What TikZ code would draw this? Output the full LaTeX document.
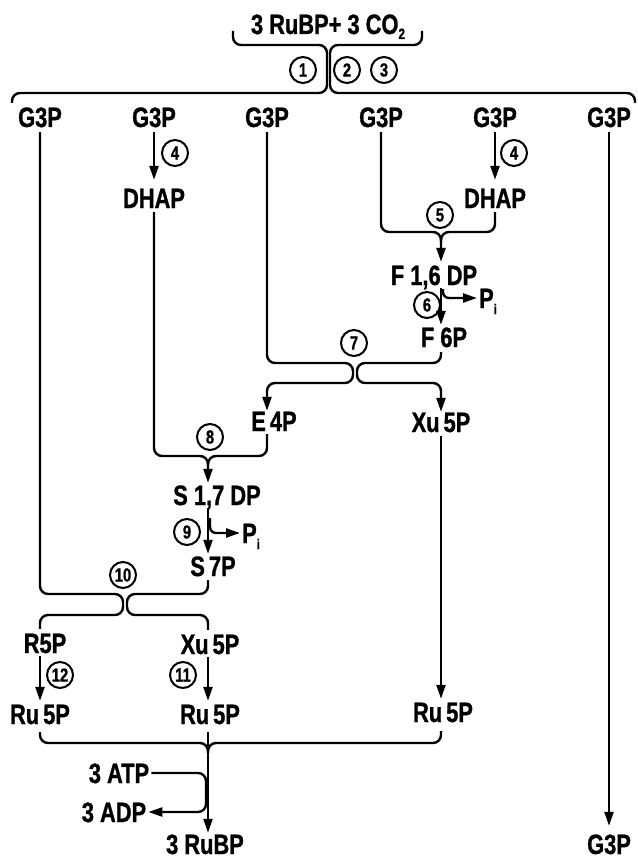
\documentclass[tikz,border=0pt]{standalone}
\usepackage{fontspec}
\newfontfamily\cf[FakeStretch=0.78,FakeBold=1]{Liberation Sans}
\usetikzlibrary{arrows.meta,calc}
\begin{document}
\begin{tikzpicture}[x=1pt,y=-1pt,
  lbl/.style={font=\cf\bfseries\fontsize{28}{28}\selectfont, inner sep=0pt, text height=20pt, text depth=0pt},
  num/.style={circle, draw, line width=2pt, minimum size=26pt, inner sep=0pt, font=\cf\bfseries\fontsize{19}{19}\selectfont},
  conn/.style={line width=2.4pt, rounded corners=8pt},
  arr/.style={conn, -{Triangle[length=14pt,width=9pt]}}]
\useasboundingbox (0,0) rectangle (637,861);
\fill[white] (0,0) rectangle (637,861);

% labels
\node[lbl] (title) at (328,24) {3 RuBP+ 3 CO\raisebox{-5pt}{\fontsize{15}{15}\selectfont 2}};
\node[lbl] (g1) at (40,117) {G3P};
\node[lbl] (g2) at (154,117) {G3P};
\node[lbl] (g3) at (267,117) {G3P};
\node[lbl] (g4) at (381,117) {G3P};
\node[lbl] (g5) at (495,117) {G3P};
\node[lbl] (g6) at (609,117) {G3P};
\node[lbl] (dh1) at (154,198) {DHAP};
\node[lbl] (dh2) at (495,198) {DHAP};
\node[lbl] (fdp) at (434,275) {F 1,6 DP};
\node[lbl] (f6p) at (444,337) {F\kern6pt 6P};
\node[lbl, anchor=west] (pi1) at (479,298) {P\raisebox{-6pt}{\fontsize{14}{14}\selectfont i}};
\node[lbl] (e4p) at (274,421) {E\kern4pt 4P};
\node[lbl] (xu1) at (441,422) {Xu\kern4pt 5P};
\node[lbl] (sdp) at (217,495) {S 1,7 DP};
\node[lbl, anchor=west] (pi2) at (242,533) {P\raisebox{-6pt}{\fontsize{14}{14}\selectfont i}};
\node[lbl] (s7p) at (213,566) {S\kern4pt 7P};
\node[lbl] (r5p) at (45,643) {R5P};
\node[lbl] (xu2) at (210,644) {Xu\kern4pt 5P};
\node[lbl] (ru1) at (40,714) {Ru\kern4pt 5P};
\node[lbl] (ru2) at (210,714) {Ru\kern4pt 5P};
\node[lbl] (ru3) at (443,712) {Ru\kern4pt 5P};
\node[lbl] (atp) at (119,773) {3 ATP};
\node[lbl] (adp) at (114,812) {3 ADP};
\node[lbl] (rubp) at (205,844) {3 RuBP};
\node[lbl] (g7) at (609,844) {G3P};

% step numbers
\node[num] (c1) at (303,70) {1};
\node[num] (c2) at (347,70) {2};
\node[num] (c3) at (384,70) {3};
\node[num] (c4a) at (175,153) {4};
\node[num] (c4b) at (514,153) {4};
\node[num] (c5) at (440,215) {5};
\node[num] (c6) at (427,305) {6};
\node[num] (c7) at (354,343) {7};
\node[num] (c8) at (210,437) {8};
\node[num] (c9) at (187,532) {9};
\node[num] (c10) at (123,575) {10};
\node[num] (c11) at (183,675) {11};
\node[num] (c12) at (60,675) {12};

% junction coordinates
\coordinate (tl) at (233,31);
\coordinate (tr) at (422,31);
\coordinate (bl) at (12,103);
\coordinate (br) at (635,103);
\coordinate (j5) at (441,232);
\coordinate (j8) at (208,456);
\coordinate (jb) at (208,743);

% top braces
\draw[conn] (tl) |- (327,45) -- (327,93) -| (bl);
\draw[conn] (tr) |- (330,45) -- (330,93) -| (br);

% step 4
\draw[arr, shorten <=5pt, shorten >=8pt] (g2.south) -- (dh1.north);
\draw[arr, shorten <=5pt, shorten >=8pt] (g5.south) -- (dh2.north);

% step 5
\draw[arr, shorten <=5pt, shorten >=3pt] (g4.south) |- (j5) -- (j5 |- fdp.north);
\draw[conn, shorten <=4pt] (dh2.south) |- (j5) -- ($(j5)+(0,10)$);

% step 6
\draw[arr, shorten <=3pt, shorten >=2pt] (fdp.south -| j5) -- (f6p.north -| j5);
\draw[arr, rounded corners=6pt, shorten >=2pt] ($(fdp.south -| j5)+(2,4)$) |- (pi1.west);

% step 7
\draw[arr, shorten <=5pt] (g3.south) |- (353,363) -- (353,383) -| (e4p.north -| g3.south);
\draw[arr, shorten <=5pt] (f6p.south -| j5) |- (357,363) -- (357,383) -| (xu1.north -| j5);

% step 8
\draw[conn, shorten <=4pt] (dh1.south) |- (j8) -- ($(j8)+(0,10)$);
\draw[arr, shorten <=3pt, shorten >=2pt] (e4p.south -| g3.south) |- (j8) -- (j8 |- sdp.north);

% step 9
\draw[arr, shorten <=3pt, shorten >=2pt] (sdp.south -| j8) -- (s7p.north -| j8);
\draw[arr, rounded corners=6pt, shorten >=2pt] ($(sdp.south -| j8)+(2,13)$) |- (pi2.west);

% step 10
\draw[conn, shorten <=5pt, shorten >=4pt] (g1.south) |- (123,594) -- (123,615) -| (r5p.north -| g1.south);
\draw[conn, shorten <=4pt, shorten >=4pt] (s7p.south -| j8) |- (127,594) -- (127,615) -| (xu2.north -| j8);

% steps 11, 12
\draw[arr, shorten <=3pt, shorten >=3pt] (r5p.south -| g1.south) -- (ru1.north -| g1.south);
\draw[arr, shorten <=3pt, shorten >=3pt] (xu2.south -| j8) -- (ru2.north -| j8);
\draw[arr, shorten <=4pt, shorten >=3pt] (xu1.south -| j5) -- (ru3.north -| j5);

% bottom
\draw[conn, shorten <=8pt] (ru1.south -| g1.south) |- (jb) -- ($(jb)+(0,10)$);
\draw[conn, shorten <=9pt] (ru3.south -| j5) |- (jb) -- ($(jb)+(0,10)$);
\draw[arr, shorten <=8pt, shorten >=1pt] (ru2.south -| jb) -- (rubp.north -| jb);
\draw[arr, shorten <=2pt, shorten >=2pt] (atp.east) -| ($(jb)+(-2,55)$) |- (adp.east);

% right column
\draw[arr, shorten <=5pt, shorten >=8pt] (g6.south) -- (g7.north);
\end{tikzpicture}
\end{document}
